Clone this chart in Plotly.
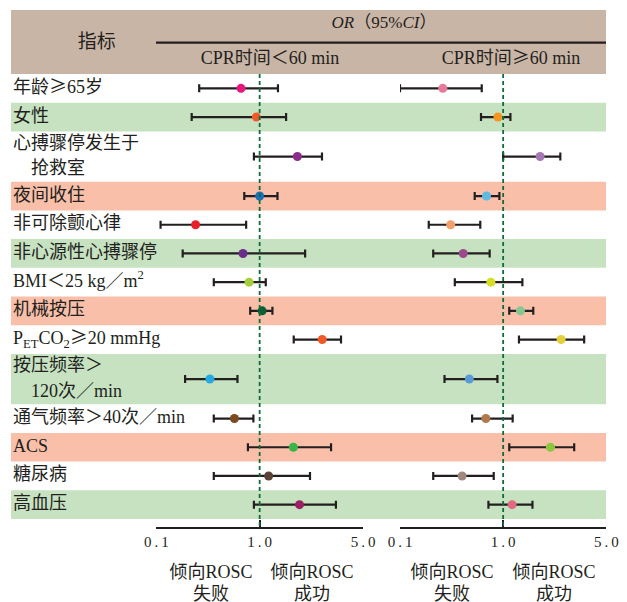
import numpy as np
import plotly.graph_objects as go

W, H = 627, 602

# ---------------- data ----------------
GE = "<span style='font-family:Noto Sans CJK SC'>≥</span>"
labels = ["年龄" + GE + "65岁", "女性", "心搏骤停发生于\n抢救室", "夜间收住", "非可除颤心律",
          "非心源性心搏骤停", "BMI＜25 kg／m<sup>2</sup>", "机械按压",
          "P<sub>ET</sub>CO<sub>2</sub>" + GE + "20 mmHg", "按压频率＞\n120次／min",
          "通气频率＞40次／min", "ACS", "糖尿病", "高血压"]

or_lt60 = [0.66, 0.93, 1.80, 1.00, 0.24, 0.69, 0.79, 1.04, 2.65, 0.33, 0.57, 1.69, 1.15, 1.86]
lo_lt60 = [0.26, 0.22, 0.88, 0.71, 0.11, 0.18, 0.36, 0.81, 1.70, 0.19, 0.36, 0.77, 0.36, 0.88]
hi_lt60 = [1.33, 1.51, 2.64, 1.32, 0.74, 2.03, 1.10, 1.22, 3.55, 0.61, 0.87, 3.04, 2.19, 3.28]

or_ge60 = [0.26, 0.89, 1.78, 0.69, 0.31, 0.41, 0.76, 1.31, 2.47, 0.47, 0.68, 2.09, 0.40, 1.15]
lo_ge60 = [0.10, 0.61, 1.00, 0.53, 0.19, 0.21, 0.34, 1.10, 1.28, 0.27, 0.50, 1.10, 0.21, 0.72]
hi_ge60 = [0.62, 1.12, 2.44, 0.92, 0.60, 0.74, 1.35, 1.60, 3.54, 0.88, 1.16, 3.03, 0.81, 1.58]

tick_vals_or = [0.1, 1.0, 5.0]
tick_text = ["0\u2009.\u20091", "1\u2009.\u20090", "5\u2009.\u20090"]

# ---------------- styles ----------------
col_lt60 = ["#e8177f", "#f05a28", "#8e2c8e", "#1a6fb8", "#e8202a", "#6a2d8c", "#a3cf3a",
            "#0d5e32", "#f05a28", "#27a9e1", "#7b4a1e", "#3ab54a", "#5a4334", "#9c1f63"]
col_ge60 = ["#e8799a", "#f7941d", "#a678b4", "#5bbbe0", "#f4a06c", "#9c4a8e", "#d7df23",
            "#84c88f", "#e6cf3c", "#5b9bd5", "#b07a4e", "#8dc63f", "#a08a7e", "#e06a80"]
band = ["#ffffff", "#c6e2c1", "#ffffff", "#f9bfa9", "#ffffff", "#c6e2c1", "#ffffff",
        "#f9bfa9", "#ffffff", "#c6e2c1", "#ffffff", "#f9bfa9", "#ffffff", "#c6e2c1"]
HEADER = "#c9b5a5"
INK = "#231f20"
DASH = "#0e6b3c"
SERIF = "Liberation Serif, Noto Sans CJK SC"


def fx(v):
    v = np.asarray(v, float)
    return np.where(v < 1, np.log10(v), np.log10(v) / np.log10(5))


def px(x):  # page x pixel -> paper fraction
    return x / W


# row geometry (pixel coordinates on the y axis)
y_top = 74.0
h_single, h_double = 28.7, 50.3
tops, centers = [], []
y = y_top
for lab in labels:
    h = h_double if "\n" in lab else h_single
    tops.append((y, y + h))
    centers.append(y + h / 2)
    y += h

L0, L1 = 156.3, 363.0
R0, R1 = 400.0, 606.3
axis_y = 528.0

fig = go.Figure()

for xa, o, lo, hi, cols in [("x", or_lt60, lo_lt60, hi_lt60, col_lt60),
                            ("x2", or_ge60, lo_ge60, hi_ge60, col_ge60)]:
    c = fx(o)
    fig.add_trace(go.Scatter(
        x=c, y=centers, xaxis=xa, yaxis="y", mode="markers",
        marker=dict(color=cols, size=9, line=dict(width=0)),
        error_x=dict(type="data", symmetric=False, array=fx(hi) - c, arrayminus=c - fx(lo),
                     color=INK, thickness=2.2, width=4),
        showlegend=False, hoverinfo="skip"))

shapes = []
shapes.append(dict(type="rect", xref="paper", yref="y", x0=px(11), x1=px(606), y0=10, y1=y_top,
                   fillcolor=HEADER, line=dict(width=0), layer="below"))
shapes.append(dict(type="line", xref="paper", yref="y", x0=px(156), x1=px(606), y0=42.7, y1=42.7,
                   line=dict(color=INK, width=2.2)))
for (t0, t1), bc in zip(tops, band):
    if bc != "#ffffff":
        shapes.append(dict(type="rect", xref="paper", yref="y", x0=px(11), x1=px(606), y0=t0, y1=t1,
                           fillcolor=bc, line=dict(width=0), layer="below"))
for xr in ["x", "x2"]:
    shapes.append(dict(type="line", xref=xr, yref="y", x0=0, x1=0, y0=y_top, y1=axis_y - 1,
                       line=dict(color=DASH, width=1.8, dash="4px,3px")))

# ---- texts (scatter text on a pixel-coordinate helper axis) ----
lx, ly, lt = [], [], []
for lab, cy in zip(labels, centers):
    lines = lab.split("\n")
    if len(lines) == 1:
        lx.append(13); ly.append(cy); lt.append(lab)
    else:
        lx += [13, 31]; ly += [cy - 12.5, cy + 13]; lt += lines
fig.add_trace(go.Scatter(x=lx, y=ly, text=lt, mode="text", textposition="middle right",
                         textfont=dict(family=SERIF, size=18, color=INK),
                         xaxis="x3", yaxis="y", showlegend=False, hoverinfo="skip"))

cx, cyy, ct, cs = [], [], [], []
hdr = [("指标", 96.7, 43, 19), ("<i>OR</i>（95%<i>CI</i>）", 384, 24, 17),
       ("CPR时间＜60 min", 270, 59, 18), ("CPR时间" + GE + "60 min", 511, 59, 18)]
for t, xx, yy, s in hdr:
    cx.append(xx); cyy.append(yy); ct.append(t); cs.append(s)
for xc, t in zip([211, 312, 452, 554], ["失败", "成功", "失败", "成功"]):
    cx += [xc, xc]; cyy += [573, 595]; ct += ["倾向ROSC", t]; cs += [18, 18]
fig.add_trace(go.Scatter(x=cx, y=cyy, text=ct, mode="text", textposition="middle center",
                         textfont=dict(family=SERIF, size=cs, color=INK),
                         xaxis="x3", yaxis="y", showlegend=False, hoverinfo="skip"))

axis_common = dict(range=[-1, 1], anchor="free", position=1 - axis_y / H, showline=True,
                   linewidth=2, linecolor=INK, ticks="inside", ticklen=7, tickwidth=2, tickcolor=INK,
                   tickvals=list(fx(tick_vals_or)), ticktext=tick_text, showgrid=False, zeroline=False,
                   tickfont=dict(family=SERIF, size=15, color=INK), fixedrange=True, automargin=False)

fig.update_layout(
    width=W, height=H, margin=dict(l=0, r=0, t=0, b=0, pad=0, autoexpand=False),
    paper_bgcolor="white", plot_bgcolor="rgba(0,0,0,0)",
    xaxis=dict(domain=[px(L0), px(L1)], **axis_common),
    xaxis2=dict(domain=[px(R0), px(R1)], **axis_common),
    xaxis3=dict(domain=[0, 1], range=[0, W], visible=False, fixedrange=True, anchor="y", automargin=False),
    yaxis=dict(range=[H, 0], domain=[0, 1], visible=False, fixedrange=True, automargin=False),
    shapes=shapes,
)

fig.write_html("out.html", config={"displayModeBar": False},
               post_script="document.body.style.margin='0';"
                           "document.documentElement.style.overflow='hidden';")
